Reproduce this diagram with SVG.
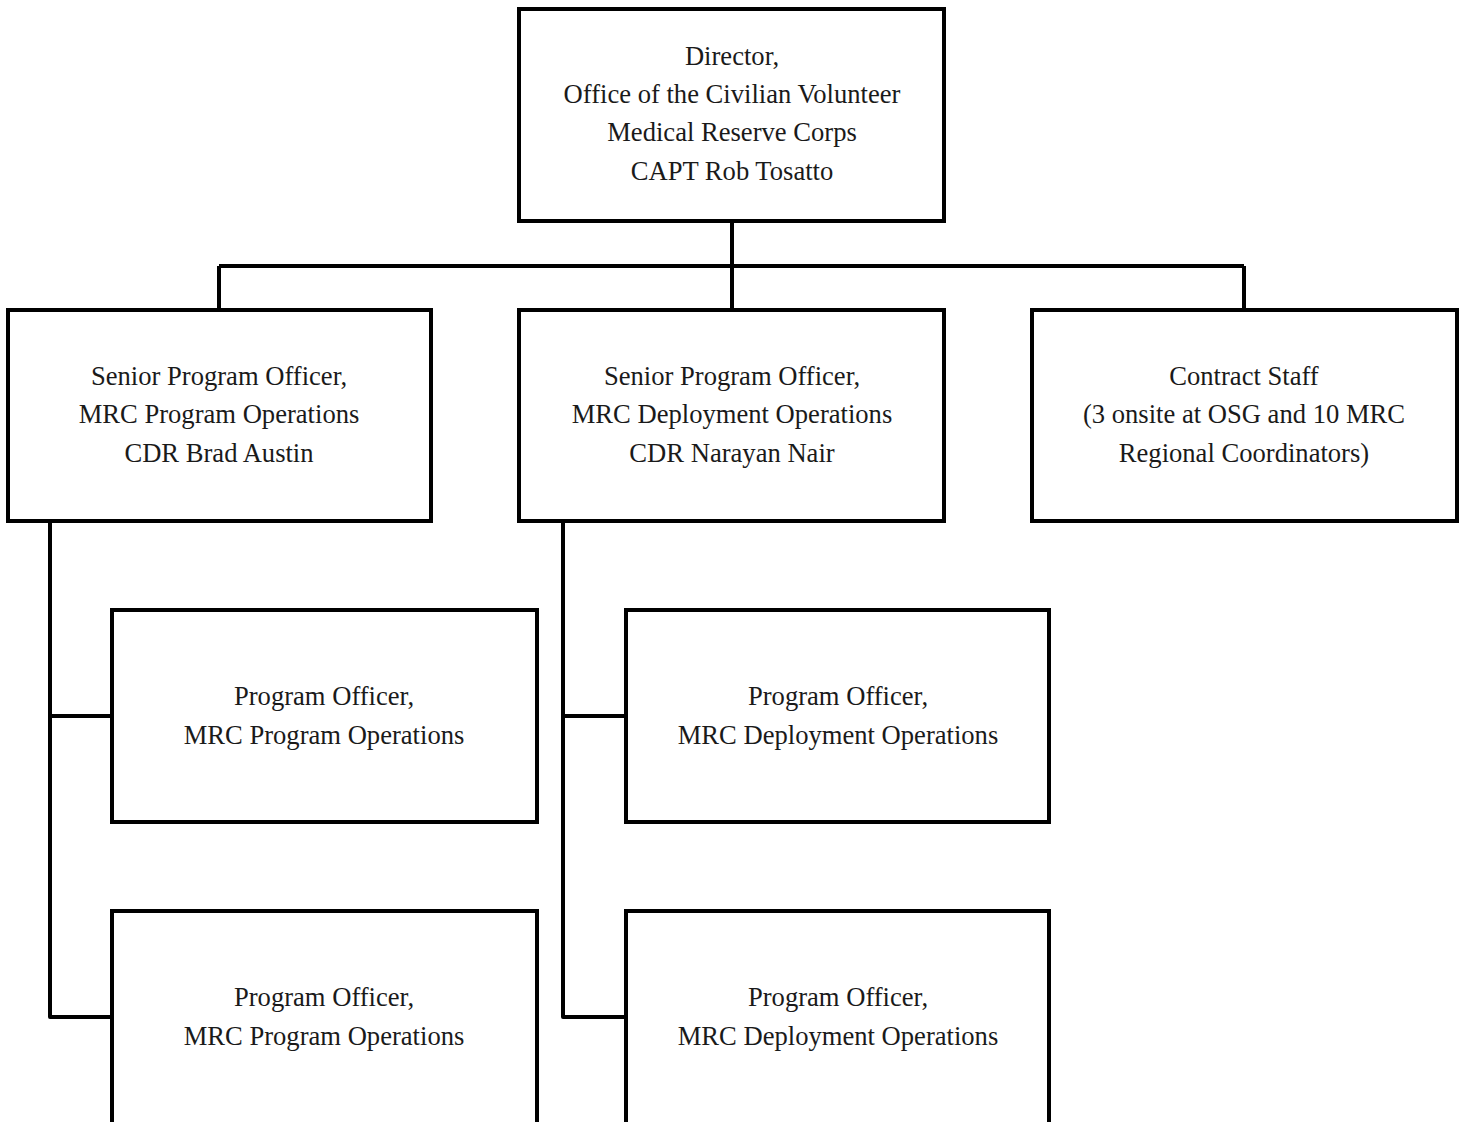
<svg xmlns="http://www.w3.org/2000/svg" width="1465" height="1122" viewBox="0 0 1465 1122">
<style>
.box{fill:#fff;stroke:#000;stroke-width:4}
.t{font-family:"Liberation Serif","Times New Roman",serif;font-size:26.6px;fill:#1a1a1a;text-anchor:middle}
.c{fill:none;stroke:#000;stroke-width:4;stroke-linejoin:round}
</style>
<rect width="1465" height="1122" fill="#fff"/>
<g id="connectors">
<path class="c" d="M732 221V310M219 266H1244M219 266V310M1244 266V310"/>
<path class="c" d="M50 521V1017H112M50 716H112"/>
<path class="c" d="M563 521V1017H626M563 716H626"/>
</g>
<g id="director">
<rect class="box" x="519" y="9" width="425" height="212"/>
<text class="t" x="732" y="65">Director,</text>
<text class="t" x="732" y="103">Office of the Civilian Volunteer</text>
<text class="t" x="732" y="141">Medical Reserve Corps</text>
<text class="t" x="732" y="180">CAPT Rob Tosatto</text>
</g>
<g id="spo-program">
<rect class="box" x="8" y="310" width="423" height="211"/>
<text class="t" x="219" y="385">Senior Program Officer,</text>
<text class="t" x="219" y="423">MRC Program Operations</text>
<text class="t" x="219" y="462">CDR Brad Austin</text>
</g>
<g id="spo-deployment">
<rect class="box" x="519" y="310" width="425" height="211"/>
<text class="t" x="732" y="385">Senior Program Officer,</text>
<text class="t" x="732" y="423">MRC Deployment Operations</text>
<text class="t" x="732" y="462">CDR Narayan Nair</text>
</g>
<g id="contract-staff">
<rect class="box" x="1032" y="310" width="425" height="211"/>
<text class="t" x="1244" y="385">Contract Staff</text>
<text class="t" x="1244" y="423">(3 onsite at OSG and 10 MRC</text>
<text class="t" x="1244" y="462">Regional Coordinators)</text>
</g>
<g id="po-program-1">
<rect class="box" x="112" y="610" width="425" height="212"/>
<text class="t" x="324" y="705">Program Officer,</text>
<text class="t" x="324" y="744">MRC Program Operations</text>
</g>
<g id="po-program-2">
<rect class="box" x="112" y="911" width="425" height="215"/>
<text class="t" x="324" y="1006">Program Officer,</text>
<text class="t" x="324" y="1045">MRC Program Operations</text>
</g>
<g id="po-deployment-1">
<rect class="box" x="626" y="610" width="423" height="212"/>
<text class="t" x="838" y="705">Program Officer,</text>
<text class="t" x="838" y="744">MRC Deployment Operations</text>
</g>
<g id="po-deployment-2">
<rect class="box" x="626" y="911" width="423" height="215"/>
<text class="t" x="838" y="1006">Program Officer,</text>
<text class="t" x="838" y="1045">MRC Deployment Operations</text>
</g>
</svg>
